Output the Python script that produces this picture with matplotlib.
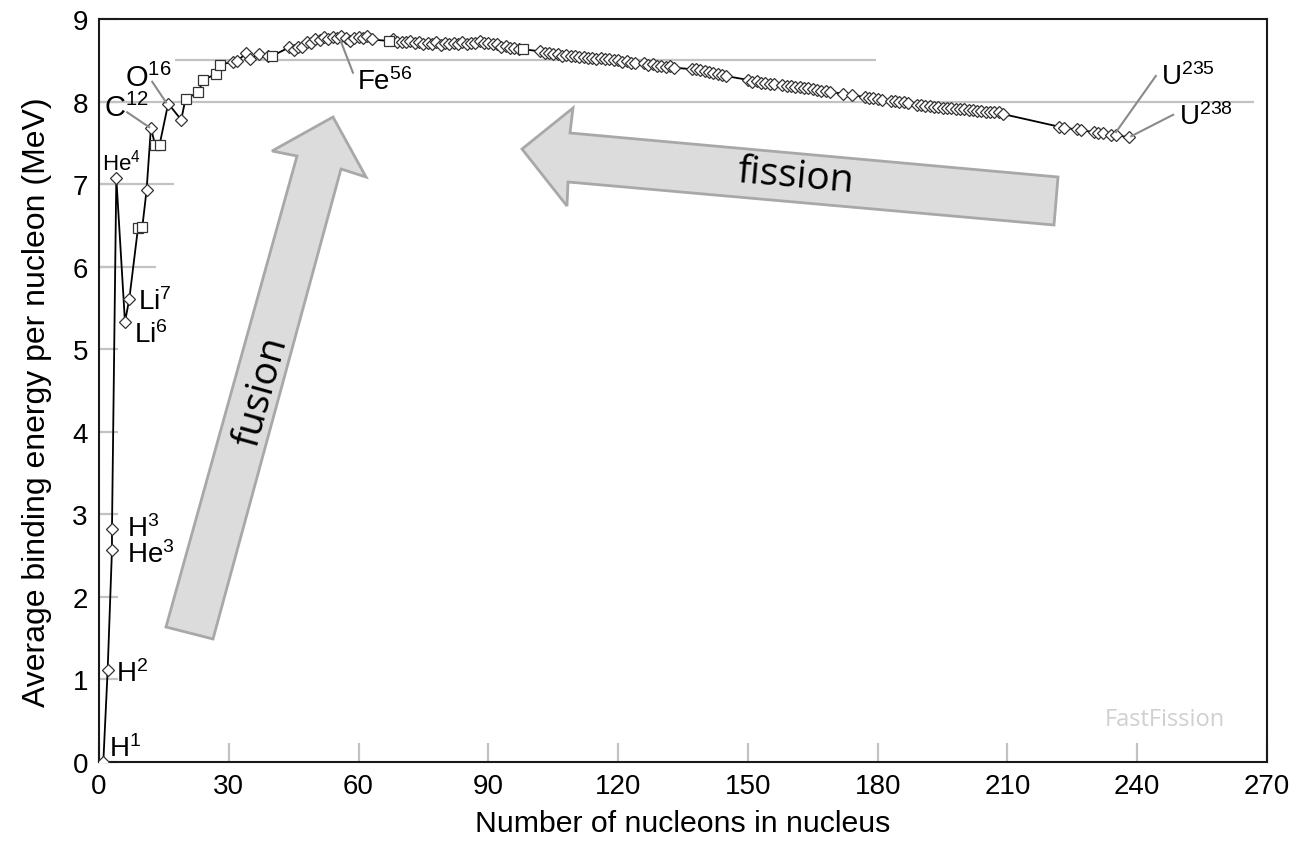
import matplotlib
matplotlib.use('Agg')
import matplotlib.pyplot as plt
from matplotlib.patches import Polygon

plt.rcParams['font.family'] = ['Liberation Sans', 'DejaVu Sans']
plt.rcParams['mathtext.fontset'] = 'custom'
plt.rcParams['mathtext.rm'] = 'Liberation Sans'
plt.rcParams['mathtext.default'] = 'regular'

# nucleon number A and binding energy per nucleon (MeV)
nucleons = [1, 2, 3, 3, 4, 6, 7, 9, 10, 11, 12, 13, 14, 16, 19, 20, 23, 24, 27, 28,
            31, 32, 34, 35, 37, 39, 40, 44, 45, 46, 47, 48, 49, 50, 51, 52, 53, 54, 55,
            56, 57, 58, 59, 60, 61, 62, 63, 67, 68, 69, 70, 71, 72, 73, 74, 75, 76, 77,
            78, 79, 80, 81, 82, 83, 84, 85, 86, 87, 88, 89, 90, 91, 92, 93, 94, 95, 96,
            97, 98, 102, 103, 104, 105, 106, 107, 108, 109, 110, 111, 112, 113, 114,
            115, 116, 117, 118, 119, 120, 121, 122, 123, 124, 126, 127, 128, 129, 130,
            131, 132, 133, 137, 138, 139, 140, 141, 142, 143, 144, 145, 150, 151, 152,
            153, 154, 155, 156, 158, 159, 160, 161, 162, 163, 164, 165, 166, 167, 168,
            169, 172, 174, 177, 178, 179, 180, 181, 183, 184, 185, 186, 187, 189, 190,
            191, 192, 193, 194, 195, 196, 197, 198, 199, 200, 201, 202, 203, 204, 205,
            206, 207, 208, 209, 222, 223, 226, 227, 230, 231, 232, 234, 235, 238]
energy = [0.0, 1.112, 2.573, 2.827, 7.074, 5.332, 5.606, 6.463, 6.475, 6.928, 7.680,
          7.470, 7.476, 7.976, 7.779, 8.032, 8.112, 8.261, 8.332, 8.448,
          8.481, 8.493, 8.584, 8.520, 8.570, 8.557, 8.551, 8.658, 8.619, 8.656, 8.661,
          8.723, 8.711, 8.756, 8.742, 8.776, 8.760, 8.778, 8.765,
          8.790, 8.770, 8.732, 8.768, 8.781, 8.765, 8.795, 8.752, 8.734, 8.756, 8.724,
          8.722, 8.718, 8.732, 8.705, 8.725, 8.701, 8.711, 8.695,
          8.718, 8.688, 8.711, 8.696, 8.711, 8.696, 8.717, 8.697, 8.712, 8.711, 8.733,
          8.714, 8.710, 8.693, 8.693, 8.664, 8.667, 8.649, 8.654,
          8.635, 8.635, 8.607, 8.584, 8.587, 8.571, 8.580, 8.554, 8.567, 8.548, 8.551,
          8.537, 8.545, 8.523, 8.532,
          8.517, 8.523, 8.510, 8.517, 8.499, 8.505, 8.482, 8.488, 8.472, 8.467, 8.463,
          8.446, 8.449, 8.431, 8.430,
          8.424, 8.428, 8.410, 8.392, 8.394, 8.378, 8.376, 8.354, 8.347, 8.330, 8.327,
          8.309, 8.262, 8.239, 8.244,
          8.229, 8.227, 8.213, 8.215, 8.202, 8.189, 8.183, 8.173, 8.173, 8.162, 8.159,
          8.147, 8.142, 8.132, 8.130,
          8.115, 8.097, 8.084, 8.052, 8.049, 8.039, 8.035, 8.023, 8.008, 8.005, 7.991,
          7.989, 7.978, 7.963, 7.963,
          7.948, 7.948, 7.938, 7.936, 7.927, 7.927, 7.916, 7.914, 7.905, 7.906, 7.898,
          7.897, 7.886, 7.886, 7.878,
          7.875, 7.870, 7.868, 7.848, 7.695, 7.683, 7.662, 7.651, 7.631, 7.618, 7.615,
          7.600, 7.591, 7.570]
# nuclides drawn with a square instead of a diamond
square_a = [9, 10, 13, 14, 20, 23, 24, 27, 28, 40, 67, 98]

x_ticks = [0, 30, 60, 90, 120, 150, 180, 210, 240, 270]
y_ticks = [0, 1, 2, 3, 4, 5, 6, 7, 8, 9]

W, H = 1301, 845
fig = plt.figure(figsize=(W / 100, H / 100), dpi=100)
ax = fig.add_axes([99 / W, 1 - 763 / H, 1168 / W, 743 / H])


def px(x, y):
    # picture pixel -> axes fraction
    return ((x - 99) / 1168, (763 - y) / 743)


grey = '#c2c2c2'
ax.hlines(8, 0, 267, color=grey, lw=1.6, zorder=1)
ax.hlines(8.5, 17.5, 179.5, color=grey, lw=1.6, zorder=1)
ax.hlines(7, 0, 17.3, color=grey, lw=1.6, zorder=1)
ax.hlines(6, 0, 13.1, color=grey, lw=1.6, zorder=1)

# big arrows
arrow_font = ['Open Sans', 'DejaVu Sans']
fusion = [px(166, 628), px(297, 157), px(272, 152), px(333, 118),
          px(366, 178), px(341, 170), px(213, 640)]
fission = [px(522, 150), px(573, 109), px(570, 134), px(1058, 178),
           px(1054, 226), px(568, 183), px(567, 207)]
for pts in (fusion, fission):
    ax.add_patch(Polygon(pts, closed=True, transform=ax.transAxes,
                         facecolor='#dcdcdc', edgecolor='#a8a8a8', lw=2, zorder=2))
ax.text(*px(262, 392), 'fusion', transform=ax.transAxes, rotation=74.5,
        ha='center', va='center', fontsize=28, family=arrow_font,
        style='normal', zorder=3)
ax.text(*px(795, 177), 'fission', transform=ax.transAxes, rotation=-5,
        ha='center', va='center', fontsize=28, family=arrow_font,
        style='normal', zorder=3)

# curve
ax.plot(nucleons, energy, color='black', lw=1.3, zorder=4)
dx = [a for a in nucleons if a not in square_a]
dy = [e for a, e in zip(nucleons, energy) if a not in square_a]
sx = [a for a in nucleons if a in square_a]
sy = [e for a, e in zip(nucleons, energy) if a in square_a]
ax.plot(dx, dy, ls='none', marker='D', ms=6.3, mfc='white', mec='#333333', mew=0.9, zorder=5)
ax.plot(sx, sy, ls='none', marker='s', ms=6.5, mfc='white', mec='#333333', mew=0.9, zorder=5)

# nuclide labels
labels = [(2.3, 0.07, 'H$^{1}$', 20), (3.9, 0.98, 'H$^{2}$', 20),
          (6.5, 2.74, 'H$^{3}$', 20), (6.5, 2.42, 'He$^{3}$', 20),
          (0.7, 7.18, 'He$^{4}$', 16), (9.0, 5.49, 'Li$^{7}$', 20),
          (8.1, 5.09, 'Li$^{6}$', 20), (1.2, 7.82, 'C$^{12}$', 21),
          (6.0, 8.19, 'O$^{16}$', 21), (59.6, 8.15, 'Fe$^{56}$', 20),
          (245.5, 8.21, 'U$^{235}$', 20), (249.7, 7.73, 'U$^{238}$', 20)]
for x, y, s, fs in labels:
    ax.text(x, y, s, fontsize=fs, ha='left', va='baseline', zorder=6)

leaders = [((6.5, 7.87), (11.6, 7.69)), ((12.3, 8.24), (15.5, 7.99)),
           ((55.9, 8.73), (58.7, 8.35)), ((244.3, 8.31), (235.1, 7.63)),
           ((248.3, 7.84), (238.6, 7.58))]
for (x0, y0), (x1, y1) in leaders:
    ax.plot([x0, x1], [y0, y1], color='#8a8a8a', lw=1.5, zorder=6)

ax.text(*px(1165, 720), 'FastFission', transform=ax.transAxes, ha='center', va='center',
        fontsize=17, color='#d0d0d0', family=arrow_font)

ax.set_xlim(0, 270)
ax.set_ylim(0, 9)
ax.set_xticks(x_ticks)
ax.set_yticks(y_ticks)
ax.tick_params(direction='in', length=14, width=1.6, color=grey, labelsize=20, pad=8)
for sp in ax.spines.values():
    sp.set_color('#1a1a1a')
    sp.set_linewidth(1.5)

ax.set_xlabel('Number of nucleons in nucleus', fontsize=21.8, labelpad=7)
ax.set_ylabel('Average binding energy per nucleon (MeV)', fontsize=23)
ax.yaxis.set_label_coords(-0.040, 0.486)

fig.savefig('out.png', dpi=100)
